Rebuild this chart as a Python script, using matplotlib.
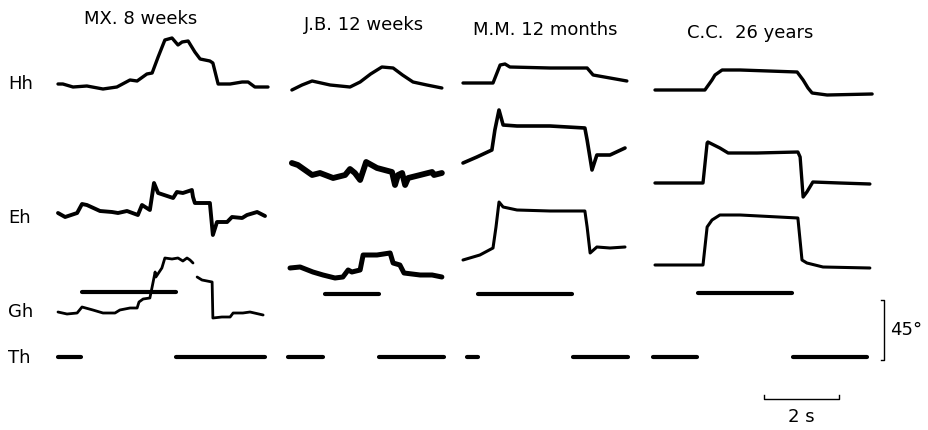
import matplotlib
matplotlib.use("Agg")
from matplotlib import pyplot as plt

# scale of the recording: pixels per second and per degree on the page
PX_PER_S = 37.5
PX_PER_DEG = 60 / 45.0
NAN = float("nan")

subjects = ["MX. 8 weeks", "J.B. 12 weeks", "M.M. 12 months", "C.C.  26 years"]
rows = ["Hh", "Eh", "Gh", "Th"]

# traces: time (s) from panel start, angle (deg) from resting level
hh_t = [
    [0, 0.13, 0.4, 0.77, 1.2, 1.57, 1.92, 2.11, 2.37, 2.51, 2.67, 2.85, 3.04, 3.2, 3.31, 3.47, 3.65, 3.79, 4.05, 4.13, 4.27, 4.59, 4.91, 5.07, 5.25, 5.6],
    [0.05, 0.32, 0.59, 1.07, 1.6, 1.87, 2.15, 2.45, 2.75, 3.0, 3.28, 3.65, 4.05],
    [0, 0.8, 0.99, 1.12, 1.25, 2.32, 3.31, 3.47, 3.92, 4.37],
    [0, 1.33, 1.52, 1.6, 1.79, 2.27, 3.79, 3.95, 4.08, 4.19, 4.59, 5.79],
]
hh_deg = [
    [0, 0, -2.25, -1.5, -3.75, -2.25, 3, 2.25, 7.5, 8.25, 20.25, 33, 34.5, 29.25, 31.5, 32.25, 24, 18.75, 17.25, 15.75, 0, 0, 1.5, 1.5, -2.25, -2.25],
    [0, 3.75, 6.75, 3.75, 2.25, 6, 12, 17.25, 16.5, 11.25, 6, 3.75, 1.5],
    [0, 0, 13.5, 14.25, 12, 11.25, 11.25, 6, 3.75, 1.5],
    [0, 0, 7.5, 11.25, 15, 15, 13.5, 7.5, 1.5, -2.25, -3.75, -3],
]

eh_t = [
    [0, 0.19, 0.51, 0.64, 0.77, 1.12, 1.44, 1.6, 1.84, 2.13, 2.24, 2.45, 2.56, 2.67, 3.07, 3.17, 3.33, 3.57, 3.6, 3.65, 4.05, 4.13, 4.24, 4.51, 4.64, 4.91, 5.04, 5.31, 5.52],
    [0.05, 0.21, 0.59, 0.8, 1.15, 1.47, 1.6, 1.73, 1.87, 2.03, 2.32, 2.72, 2.8, 2.88, 2.99, 3.07, 3.15, 3.47, 3.68, 3.79, 3.84, 4.05],
    [0, 0.37, 0.77, 0.85, 0.96, 1.07, 1.44, 2.32, 3.25, 3.31, 3.44, 3.57, 3.92, 4.32],
    [0, 1.28, 1.39, 1.41, 1.73, 1.95, 2.72, 3.81, 3.87, 3.95, 4.05, 4.21, 4.93, 5.73],
]
eh_deg = [
    [0, -3, 0, 6.75, 6, 1.5, 0.75, 0, 1.5, -1.5, 6, 2.25, 22.5, 15, 11.25, 15.75, 15, 17.25, 12, 7.5, 7.5, -16.5, -6.75, -6.75, -3, -3.75, -1.5, 0.75, -2.25],
    [0, -1.5, -9, -7.5, -11.25, -9, -4.5, -7.5, -12.75, 0.75, -3.75, -6.75, -16.5, -9, -7.5, -16.5, -11.25, -9, -7.5, -6.75, -9, -7.5],
    [0, 4.5, 9.75, 24.75, 39.75, 28.5, 27.75, 27.75, 26.25, 17.25, -5.25, 6, 6, 11.25],
    [0, 0, 30, 30.75, 26.25, 22.5, 22.5, 23.25, 19.5, -10.5, -6.75, 0.75, 0, -0.75],
]

# the MX gaze record has a short pen lift after the peak (NAN)
gh_t = [
    [0, 0.24, 0.51, 0.64, 0.93, 1.2, 1.52, 1.65, 1.92, 2.11, 2.16, 2.27, 2.45, 2.51, 2.59, 2.61, 2.77, 2.85, 3.04, 3.2, 3.33, 3.44, 3.52, 3.6, 3.65, 3.71, 3.84, 4.11, 4.13, 4.37, 4.59, 4.67, 4.93, 5.12, 5.47],
    [0, 0.27, 0.61, 0.88, 1.2, 1.41, 1.55, 1.65, 1.87, 1.95, 2.32, 2.67, 2.75, 2.93, 3.04, 3.47, 3.79, 4.05],
    [0, 0.45, 0.8, 0.88, 0.96, 1.07, 1.44, 2.32, 3.25, 3.31, 3.39, 3.57, 3.92, 4.32],
    [0, 1.28, 1.39, 1.52, 1.73, 2.27, 3.81, 3.92, 4.05, 4.48, 5.73],
]
gh_deg = [
    [0, -1.5, -0.75, 3.75, 1.5, -0.75, -0.75, 1.5, 3, 3, 7.5, 9.75, 10.5, 18.75, 30, 26.25, 33, 40.5, 39.75, 40.5, 38.25, 40.5, 39, 36.75, NAN, 26.25, 24, 22.5, -4.5, -3.75, -3.75, -0.75, -0.75, 0, -2.25],
    [0, 0.75, -3, -5.25, -7.5, -6.75, -1.5, -3, -1.5, 9.75, 9.75, 11.25, 3.75, 2.25, -3.75, -5.25, -5.25, -6.75],
    [0, 3.75, 9, 24.75, 43.5, 39.75, 37.5, 36.75, 36.75, 24.75, 5.25, 9.75, 9, 9.75],
    [0, 0, 28.5, 33.75, 37.5, 37.5, 35.25, 3.75, 1.5, -1.5, -2.25],
]

# stimulus bar (on, off) in s
stim_on = [0.64, 0.93, 0.4, 1.15]
stim_off = [3.15, 2.37, 2.91, 3.65]

# target trace segments (start, end) in s
th_segments = [
    [(0, 0.61), (3.15, 5.52)],
    [(-0.05, 0.88), (2.37, 4.11)],
    [(0.11, 0.4), (2.93, 4.4)],
    [(-0.05, 1.12), (3.68, 5.65)],
]

# layout on the page (pixels)
panel_x0 = [58, 290, 463, 655]
hh_y0 = [84, 90, 83, 90]
eh_y0 = [213, 163, 163, 183]
gh_y0 = [312, 268, 260, 265]
stim_y = [292, 294, 294, 293]
th_y = 357
title_x = [141, 364, 545, 750]
title_y = [19, 25, 30, 33]
row_label_y = [84, 218, 312, 358]
trace_lw = [
    [2.4, 2.8, 2.0],
    [2.4, 4.2, 3.6],
    [2.4, 2.6, 2.2],
    [2.4, 2.4, 2.2],
]

W, H = 929, 430
fig = plt.figure(figsize=(W / 100, H / 100), dpi=100)
ax = fig.add_axes([0, 0, 1, 1])
# axis units are seconds (x) and degrees (y, upwards)
ax.set_xlim(0, W / PX_PER_S)
ax.set_ylim(-H / PX_PER_DEG, 0)
ax.axis("off")


def sx(px):
    return px / PX_PER_S


def sy(px):
    return -px / PX_PER_DEG


plt.rcParams["font.family"] = "DejaVu Sans"

for i in range(4):
    x0 = sx(panel_x0[i])
    for k, (ts, ds, y0) in enumerate([(hh_t[i], hh_deg[i], hh_y0[i]),
                                      (eh_t[i], eh_deg[i], eh_y0[i]),
                                      (gh_t[i], gh_deg[i], gh_y0[i])]):
        ax.plot([x0 + t for t in ts], [sy(y0) + d for d in ds], color="black",
                lw=trace_lw[i][k], solid_joinstyle="round", solid_capstyle="round")
    ax.plot([x0 + stim_on[i], x0 + stim_off[i]], [sy(stim_y[i])] * 2, color="black",
            lw=3.0, solid_capstyle="round")
    for a, b in th_segments[i]:
        ax.plot([x0 + a, x0 + b], [sy(th_y)] * 2, color="black", lw=3.0,
                solid_capstyle="round")
    ax.text(sx(title_x[i]), sy(title_y[i]), subjects[i], ha="center", va="center",
            fontsize=13)

for name, y in zip(rows, row_label_y):
    ax.text(sx(8), sy(y), name, ha="left", va="center", fontsize=13)

# 45 degree calibration bracket
bx = sx(884)
by_top = sy(300)
ax.plot([bx - 0.08, bx, bx, bx - 0.08], [by_top, by_top, by_top - 45, by_top - 45],
        color="black", lw=1.0)
ax.text(bx + 0.15, by_top - 22.5, "45°", ha="left", va="center", fontsize=13)

# 2 s time bar
tx = sx(764)
ty = sy(399)
ax.plot([tx, tx, tx + 2, tx + 2], [ty + 3, ty, ty, ty + 3], color="black", lw=1.0)
ax.text(tx + 1, sy(417), "2 s", ha="center", va="center", fontsize=13)

fig.savefig("out.png", dpi=100, facecolor="white")
